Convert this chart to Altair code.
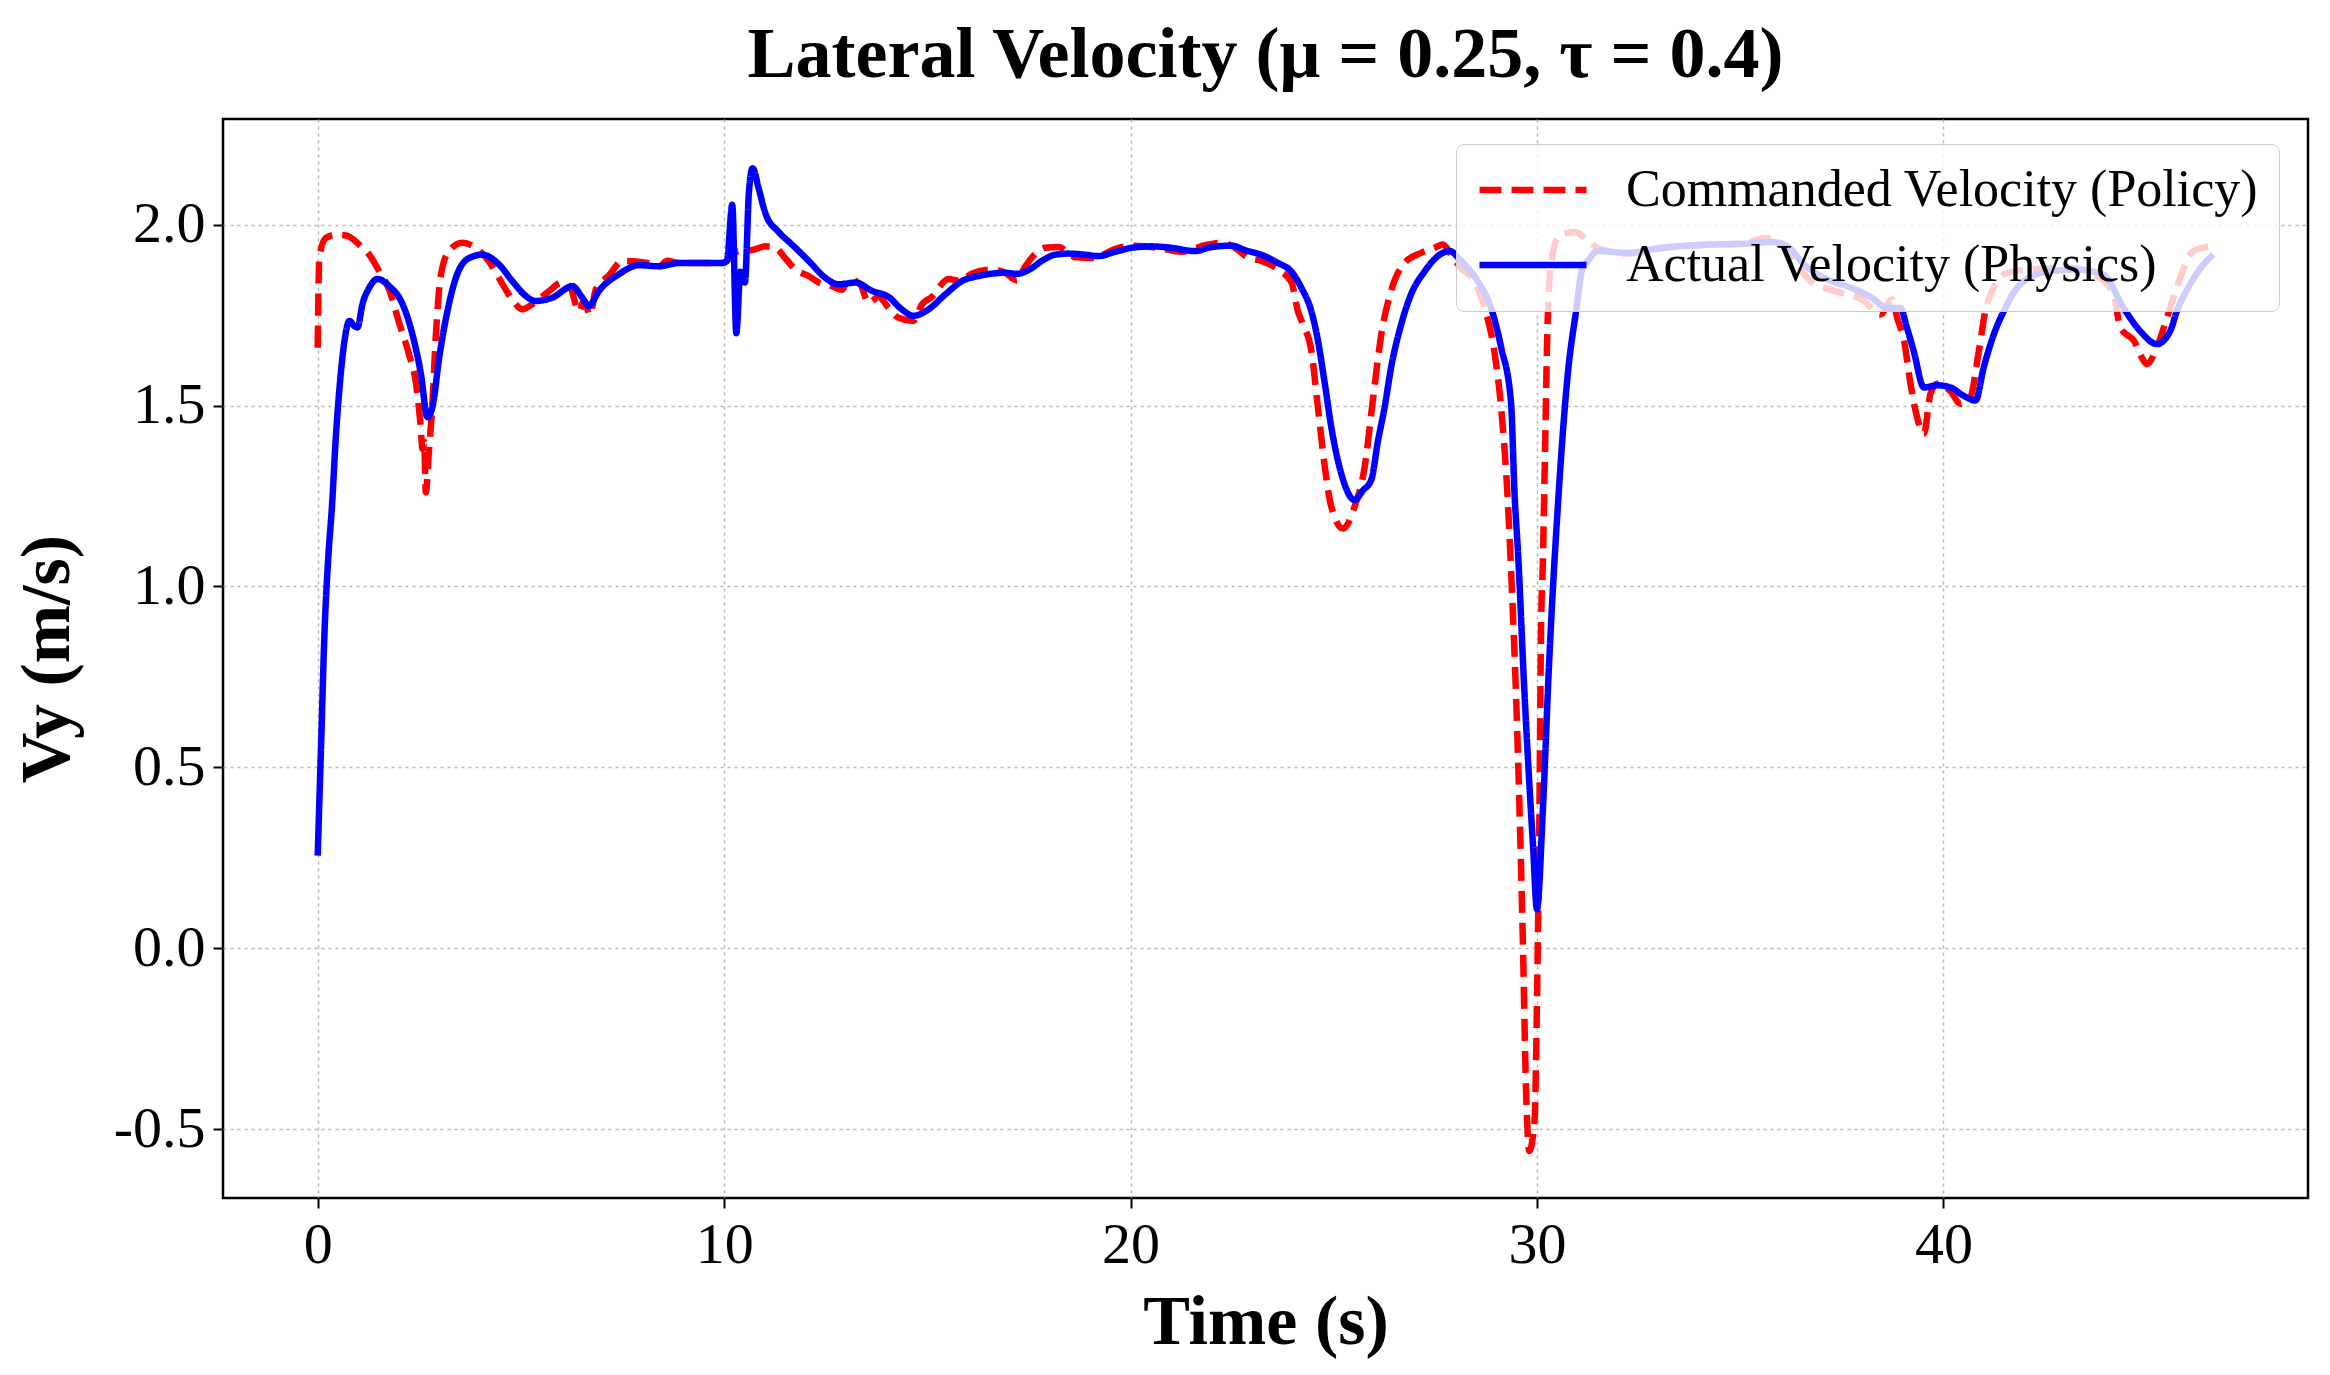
import altair as alt
import pandas as pd

# Commanded velocity (policy) - red dashed
t_cmd = [0, 0.04, 0.2, 0.45, 0.7, 1.02, 1.27, 1.52, 1.76, 2.0, 2.25, 2.42, 2.52, 2.58, 2.62,
         2.66, 2.74, 2.82, 2.9, 3.03, 3.23, 3.56, 3.89, 4.2, 4.55, 4.8, 5.04, 5.28, 5.7, 6.0,
         6.2, 6.43, 6.55, 6.7, 6.84, 7.17, 7.5, 8.07, 8.4, 8.6, 8.89, 9.95, 10.36, 10.7, 11.0,
         11.26, 11.5, 11.75, 12.08, 12.33, 12.65, 12.9, 13.06, 13.35, 13.55, 13.8, 14.05, 14.29,
         14.66, 14.87, 15.11, 15.52, 15.8, 16.1, 16.59, 16.9, 17.2, 17.41, 17.74, 17.9, 18.23,
         18.64, 19.05, 19.7, 20.11, 20.68, 21.26, 21.83, 22.24, 22.57, 22.9, 23.22, 23.63, 23.96,
         24.12, 24.24, 24.45, 24.61, 24.78, 24.94, 25.23, 25.51, 25.76, 25.96, 26.17, 26.41,
         26.74, 27.15, 27.48, 27.68, 27.89, 28.13, 28.46, 28.71, 28.95, 29.12, 29.28, 29.36,
         29.53, 29.65, 29.73, 29.81, 29.94, 30.0, 30.06, 30.1, 30.14, 30.2, 30.26, 30.35, 30.55,
         30.95, 31.2, 31.5, 32.2, 33.05, 34.28, 35.1, 35.59, 36.08, 36.4, 36.73, 37.22, 38.04,
         38.45, 38.74, 38.86, 39.03, 39.19, 39.35, 39.52, 39.68, 39.85, 40.17, 40.42, 40.66,
         40.87, 41.03, 41.2, 41.57, 42.14, 43.12, 43.78, 44.19, 44.35, 44.68, 45.01, 45.25,
         45.5, 45.74, 46.15, 46.56]
v_cmd = [1.66, 1.91, 1.963, 1.972, 1.97, 1.945, 1.917, 1.87, 1.82, 1.73, 1.64, 1.56, 1.46, 1.38,
         1.40, 1.26, 1.38, 1.50, 1.68, 1.86, 1.927, 1.95, 1.936, 1.90, 1.835, 1.79, 1.766, 1.78,
         1.817, 1.84, 1.83, 1.76, 1.79, 1.75, 1.82, 1.86, 1.90, 1.895, 1.885, 1.90, 1.894, 1.894,
         1.927, 1.93, 1.94, 1.936, 1.908, 1.876, 1.858, 1.84, 1.83, 1.82, 1.85, 1.835, 1.784,
         1.80, 1.77, 1.743, 1.734, 1.78, 1.80, 1.85, 1.845, 1.865, 1.876, 1.868, 1.846, 1.885,
         1.927, 1.936, 1.938, 1.91, 1.908, 1.936, 1.942, 1.936, 1.925, 1.943, 1.95, 1.936, 1.908,
         1.90, 1.876, 1.84, 1.76, 1.725, 1.65, 1.495, 1.33, 1.22, 1.16, 1.22, 1.33, 1.514, 1.697,
         1.817, 1.894, 1.922, 1.936, 1.945, 1.917, 1.88, 1.844, 1.77, 1.65, 1.49, 1.24, 1.05,
         0.54, 0.03, -0.39, -0.56, -0.476, -0.14, 0.38, 0.89, 1.05, 1.39, 1.726, 1.895, 1.97,
         1.98, 1.96, 1.935, 1.92, 1.935, 1.945, 1.948, 1.963, 1.945, 1.89, 1.844, 1.82, 1.79,
         1.752, 1.794, 1.743, 1.68, 1.56, 1.468, 1.422, 1.532, 1.56, 1.54, 1.505, 1.523, 1.65,
         1.76, 1.817, 1.867, 1.876, 1.88, 1.858, 1.807, 1.716, 1.68, 1.615, 1.66, 1.743, 1.826,
         1.927, 1.94]

# Actual velocity (physics) - blue solid
t_act = [0, 0.08, 0.17, 0.26, 0.35, 0.45, 0.53, 0.66, 0.78, 0.9, 0.98, 1.1, 1.27, 1.47, 1.76,
         2.09, 2.33, 2.54, 2.7, 2.83, 2.99, 3.19, 3.4, 3.73, 4.05, 4.46, 4.79, 5.12, 5.36, 5.77,
         6.27, 6.5, 6.67, 6.92, 7.41, 7.9, 8.4, 8.89, 9.95, 10.07, 10.2, 10.3, 10.4, 10.51,
         10.61, 10.7, 10.85, 11.02, 11.34, 11.67, 12.08, 12.49, 12.82, 13.23, 13.64, 14.05,
         14.37, 14.66, 15.03, 15.44, 15.85, 16.26, 16.92, 17.2, 17.57, 17.82, 18.14, 18.47,
         18.88, 19.21, 19.62, 20.03, 20.52, 21.01, 21.58, 21.99, 22.49, 22.81, 23.3, 23.63,
         23.96, 24.2, 24.45, 24.61, 24.78, 24.94, 25.19, 25.51, 25.72, 25.92, 26.09, 26.25,
         26.41, 26.66, 26.9, 27.23, 27.56, 27.85, 28.13, 28.54, 28.87, 29.12, 29.36, 29.45,
         29.53, 29.69, 29.9, 30.0, 30.14, 30.3, 30.51, 30.76, 30.96, 31.12, 31.25, 31.49, 32.23,
         33.05, 34.28, 35.1, 35.75, 36.16, 36.57, 37.06, 37.72, 38.21, 38.62, 38.94, 39.1, 39.27,
         39.52, 39.85, 40.17, 40.5, 40.79, 40.99, 41.24, 41.48, 41.89, 42.55, 43.28, 43.94,
         44.43, 44.84, 45.25, 45.58, 45.74, 46.07, 46.4, 46.64]
v_act = [0.256, 0.55, 0.88, 1.08, 1.22, 1.42, 1.54, 1.68, 1.734, 1.72, 1.716, 1.78, 1.826, 1.85,
         1.83, 1.78, 1.697, 1.587, 1.468, 1.50, 1.633, 1.76, 1.853, 1.908, 1.917, 1.89, 1.844,
         1.803, 1.789, 1.798, 1.83, 1.80, 1.775, 1.817, 1.863, 1.888, 1.885, 1.894, 1.894, 1.90,
         2.055, 1.70, 1.87, 1.84, 2.09, 2.156, 2.10, 2.03, 1.98, 1.945, 1.90, 1.853, 1.835, 1.84,
         1.817, 1.80, 1.766, 1.748, 1.766, 1.807, 1.844, 1.858, 1.867, 1.864, 1.88, 1.90, 1.917,
         1.92, 1.917, 1.913, 1.925, 1.936, 1.94, 1.936, 1.927, 1.938, 1.942, 1.93, 1.913, 1.894,
         1.87, 1.826, 1.76, 1.68, 1.56, 1.44, 1.31, 1.239, 1.266, 1.294, 1.404, 1.495, 1.605,
         1.725, 1.807, 1.87, 1.913, 1.927, 1.90, 1.844, 1.77, 1.66, 1.51, 1.25, 1.10, 0.71,
         0.287, 0.108, 0.372, 0.794, 1.217, 1.59, 1.76, 1.88, 1.90, 1.927, 1.922, 1.936, 1.945,
         1.947, 1.952, 1.94, 1.89, 1.853, 1.826, 1.80, 1.77, 1.77, 1.716, 1.65, 1.55, 1.556,
         1.55, 1.527, 1.514, 1.605, 1.697, 1.76, 1.835, 1.87, 1.876, 1.862, 1.77, 1.706, 1.67,
         1.706, 1.76, 1.835, 1.89, 1.917]

series_names = ["Commanded Velocity (Policy)", "Actual Velocity (Physics)"]
series_colors = ["#ff0000", "#0000ff"]
x_ticks = [0, 10, 20, 30, 40]
y_ticks = [-0.5, 0.0, 0.5, 1.0, 1.5, 2.0]

df_cmd = pd.DataFrame({"t": t_cmd, "v": v_cmd, "series": series_names[0]})
df_act = pd.DataFrame({"t": t_act, "v": v_act, "series": series_names[1]})

FONT = "Liberation Serif"

x_enc = alt.X(
    "t:Q",
    scale=alt.Scale(domain=[-2.33, 48.97], nice=False, zero=False),
    axis=alt.Axis(values=x_ticks, title="Time (s)", format="d"),
)
y_enc = alt.Y(
    "v:Q",
    scale=alt.Scale(domain=[-0.69, 2.292], nice=False, zero=False),
    axis=alt.Axis(
        values=y_ticks,
        title="Vy (m/s)",
        labelExpr="datum.value < 0 ? '-' + format(-datum.value, '.1f') : format(datum.value, '.1f')",
    ),
)

legend = alt.Legend(
    title=None,
    orient="none",
    legendX=1233,
    legendY=25,
    symbolType="stroke",
    symbolSize=11449,
    symbolStrokeWidth=6.5,
    clipHeight=52,
    labelFont=FONT,
    labelFontSize=52,
    labelColor="black",
    labelOffset=36,
    rowPadding=23,
    padding=20,
    fillColor="rgba(255,255,255,0.8)",
    strokeColor="#cccccc",
    cornerRadius=8,
    labelLimit=1000,
)

color_enc = alt.Color(
    "series:N",
    scale=alt.Scale(domain=series_names, range=series_colors),
    legend=legend,
)
dash_enc = alt.StrokeDash(
    "series:N",
    scale=alt.Scale(domain=series_names, range=[[22, 10], [1, 0]]),
    legend=legend,
)

cmd_line = alt.Chart(df_cmd).mark_line(
    strokeWidth=6.5, strokeCap="butt", strokeJoin="round", interpolate="monotone"
).encode(x=x_enc, y=y_enc, color=color_enc, strokeDash=dash_enc)

act_line = alt.Chart(df_act).mark_line(
    strokeWidth=6.5, strokeCap="butt", strokeJoin="round", interpolate="monotone"
).encode(x=x_enc, y=y_enc, color=color_enc, strokeDash=dash_enc)

chart = (
    alt.layer(cmd_line, act_line)
    .properties(
        width=2085,
        height=1079,
        autosize=alt.AutoSizeParams(type="none"),
        padding={"left": 215, "top": 111, "right": 14, "bottom": 169},
        title=alt.Title(
            "Lateral Velocity (μ = 0.25, τ = 0.4)",
            font=FONT,
            fontSize=72,
            fontWeight="bold",
            color="black",
            anchor="middle",
            baseline="alphabetic",
            offset=47,
            dy=77,
        ),
    )
    .configure_view(stroke="black", strokeWidth=2.5)
    .configure_axis(
        domain=False,
        grid=True,
        gridColor="#b8b8b8",
        gridDash=[3, 4],
        gridWidth=1.5,
        ticks=True,
        tickColor="black",
        tickSize=10,
        tickWidth=2,
        labelFont=FONT,
        labelFontSize=58,
        labelColor="black",
        labelPadding=8,
        titleFont=FONT,
        titleFontSize=70,
        titleFontWeight="bold",
        titleColor="black",
    )
    .configure_axisX(titlePadding=14)
    .configure_axisY(titlePadding=30)
)

chart.save("out.html", embed_options={"renderer": "svg", "actions": False})
